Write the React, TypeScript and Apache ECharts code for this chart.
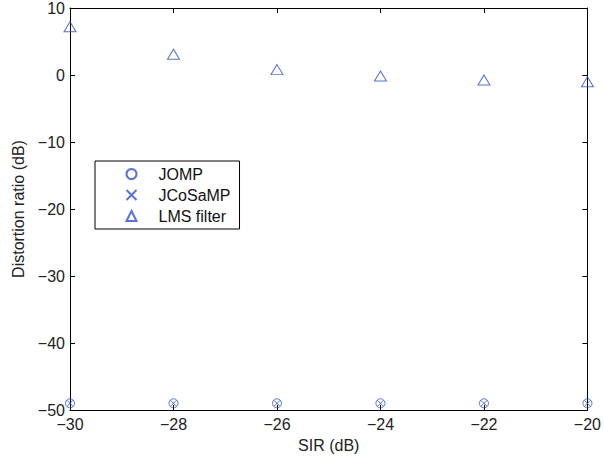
import React, { useEffect, useRef } from "react";
import * as echarts from "echarts";

// SIR sweep (dB)
const sir = [-30, -28, -26, -24, -22, -20];
// Distortion ratio (dB) per method
const jomp = [-49, -49, -49, -49, -49, -49];
const jcosamp = [-49, -49, -49, -49, -49, -49];
const lms = [7.2, 3.1, 0.8, -0.15, -0.75, -1.0];

const xTicks = { min: -30, max: -20, interval: 2 };
const yTicks = { min: -50, max: 10, interval: 10 };

const BLUE = "#2f4fc8";
const FONT = "Liberation Sans, Arial, Helvetica, sans-serif";
const FS = 16;
const CROSS = "path://M0,0L10,10M10,0L0,10";

const minus = (v: number) => String(v).replace("-", "\u2212");

const pairs = (ys: number[]) => sir.map((x, i) => [x, ys[i]]);

export default function App() {
  const ref = useRef<HTMLDivElement>(null);

  useEffect(() => {
    if (!ref.current) return;
    const chart = echarts.init(ref.current, undefined, { renderer: "svg" });

    const axisLine = { show: true, onZero: false, lineStyle: { color: "#000", width: 1 } };
    const axisTick = { show: true, inside: true, length: 5, lineStyle: { color: "#000" } };
    const label = { color: "#222", fontSize: FS, fontFamily: FONT, formatter: minus };
    const nameStyle = { color: "#222", fontSize: FS, fontFamily: FONT };

    chart.setOption({
      animation: false,
      backgroundColor: "#fff",
      grid: { left: 70, right: 12, top: 8, bottom: 46, containLabel: false },
      legend: {
        orient: "vertical",
        left: 95,
        top: 161,
        padding: [5, 9, 5, 29],
        itemGap: 5,
        itemWidth: 10,
        itemHeight: 10,
        borderColor: "#000",
        borderWidth: 1,
        backgroundColor: "#fff",
        textStyle: { color: "#111", fontSize: FS, fontFamily: FONT, padding: [0, 0, 0, 17] },
        data: ["JOMP", "JCoSaMP", "LMS filter"],
      },
      xAxis: [
        {
          type: "value",
          ...xTicks,
          name: "SIR (dB)",
          nameLocation: "middle",
          nameGap: 27,
          nameTextStyle: nameStyle,
          axisLine,
          axisTick,
          axisLabel: { ...label, margin: 6 },
          splitLine: { show: false },
        },
        {
          type: "value",
          position: "top",
          ...xTicks,
          axisLine,
          axisTick,
          axisLabel: { show: false },
          splitLine: { show: false },
        },
      ],
      yAxis: [
        {
          type: "value",
          ...yTicks,
          name: "Distortion ratio (dB)",
          nameLocation: "middle",
          nameGap: 39,
          nameTextStyle: nameStyle,
          axisLine,
          axisTick,
          axisLabel: { ...label, margin: 5 },
          splitLine: { show: false },
        },
        {
          type: "value",
          position: "right",
          ...yTicks,
          axisLine,
          axisTick,
          axisLabel: { show: false },
          splitLine: { show: false },
        },
      ],
      series: [
        {
          name: "JOMP",
          type: "scatter",
          symbol: "circle",
          symbolSize: 9,
          itemStyle: { color: "none", borderColor: BLUE, borderWidth: 1 },
          data: pairs(jomp),
          z: 3,
        },
        {
          name: "JCoSaMP",
          type: "scatter",
          symbol: CROSS,
          symbolSize: 6,
          itemStyle: { color: "none", borderColor: BLUE, borderWidth: 1 },
          data: pairs(jcosamp),
          z: 4,
        },
        {
          name: "LMS filter",
          type: "scatter",
          symbol: "triangle",
          symbolSize: [12, 10],
          itemStyle: { color: "none", borderColor: BLUE, borderWidth: 1 },
          data: pairs(lms),
          z: 5,
        },
      ],
    });

    return () => chart.dispose();
  }, []);

  return <div ref={ref} style={{ width: 604, height: 458, position: "absolute", left: 0, top: 0 }} />;
}
